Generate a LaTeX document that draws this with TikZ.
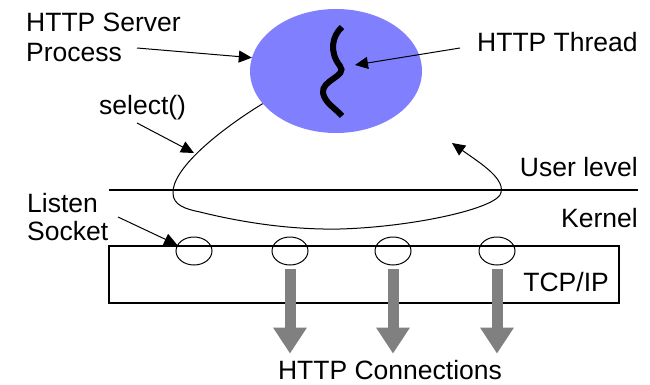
\documentclass[tikz,border=0pt]{standalone}
\usepackage{fontspec}
\setmainfont{Liberation Sans}
\usetikzlibrary{arrows.meta,shapes.geometric}
\definecolor{procblue}{RGB}{128,128,255}
\definecolor{conngray}{RGB}{128,128,128}
\tikzset{
  lbl/.style={inner sep=0pt, font=\fontsize{26.5}{30}\selectfont},
  arr/.style={line width=1pt, -{Triangle[length=13pt,width=12pt]}},
  sock/.style={ellipse, draw, line width=1pt, minimum width=36pt, minimum height=28pt, inner sep=0pt},
  fatarrow/.style={draw=conngray, line width=11pt, -{Triangle[length=26pt,width=32pt]}},
  rule/.style={line width=2pt},
}
\begin{document}
\begin{tikzpicture}[x=1pt,y=-1pt]
\useasboundingbox (0,0) rectangle (650,385);

% server process with its thread
\node[ellipse, fill=procblue, minimum width=172pt, minimum height=124pt, inner sep=0pt] (proc) at (336,71) {};
\draw[line width=6pt] (342,27) .. controls (332,36) and (329,52) .. (340,66)
  .. controls (348,76) and (321,80) .. (323,93)
  .. controls (325,103) and (335,108) .. (342,116);
\coordinate (thread) at (355,65);

% user/kernel boundary and the TCP/IP box
\draw[rule] (109,190) -- (638,190);
\draw[rule] (109,246) rectangle (619,303);

% sockets
\node[sock] (s1) at (194,251) {};
\node[sock] (s2) at (290,251) {};
\node[sock] (s3) at (393,251) {};
\node[sock] (s4) at (497,251) {};

% labels
\node[lbl, anchor=north west, align=left] (srv) at (26,13) {HTTP Server\\Process};
\node[lbl, anchor=base west] (sel) at (99,115) {select()};
\node[lbl, anchor=base west] (thr) at (477,52) {HTTP Thread};
\node[lbl, anchor=base east] (user) at (638,176) {User level};
\node[lbl, anchor=base east] (kern) at (638,227) {Kernel};
\node[lbl, anchor=north west, align=left, font=\fontsize{26.5}{28}\selectfont] (listen) at (27,193) {Listen\\Socket};
\node[lbl, anchor=base east] (tcp) at (609,291) {TCP/IP};
\node[lbl, anchor=base] (conn) at (390,379) {HTTP Connections};

% pointer arrows
\coordinate (srvtail) at (137,48);
\coordinate (seltail) at (137,123);
\coordinate (seltip) at (194,153);
\coordinate (thrtail) at (460,48);
\coordinate (lstail) at (118,217);
\coordinate (ret) at (452,143);
\draw[arr] (srvtail) -- (proc.171);
\draw[arr] (seltail) -- (seltip);
\draw[arr] (thrtail) -- (thread);
\draw[arr] (lstail) -- (s1.160);

% select() loop down into the kernel and back
\draw[arr] (proc.204) .. controls (215,133) and (172,170) .. (173,193)
  .. controls (173,205) and (185,209) .. (200,212)
  .. controls (240,222) and (290,230) .. (340,229)
  .. controls (410,227) and (490,210) .. (500,195)
  .. controls (508,180) and (480,163) .. (ret);

% connections leaving the stack
\foreach \s in {s2,s3,s4}
  \draw[fatarrow, shorten <=3pt, shorten >=6pt] (\s.south) -- (\s.south |- conn.north);
\end{tikzpicture}
\end{document}
